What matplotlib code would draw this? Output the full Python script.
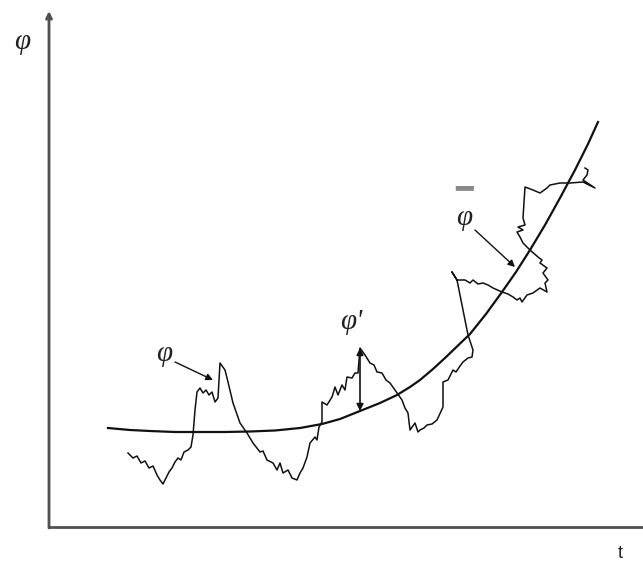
import numpy as np
import matplotlib.pyplot as plt

# mean curve (phi-bar) : t, phi
mean_t = [59, 81, 101, 126, 151, 176, 201, 226, 251, 273, 291, 311, 331, 348,
          361, 371, 384, 396, 409, 421, 437, 453, 467, 481, 496, 511, 526, 539, 549]
mean_phi = [99, 97, 96, 95, 95, 95, 95.5, 96.5, 99, 103, 108, 116, 124, 132,
            140, 147, 158, 169, 181.5, 193, 213, 235, 255, 277, 302, 329, 357, 383, 405]

# instantaneous value (phi) : t, phi
inst_t = [79, 84, 88, 92, 96, 100, 104, 108, 111, 114, 117, 120, 123, 126, 129, 132,
          135, 139, 142, 144, 146, 148, 151, 154, 157, 160, 163, 166, 169, 171, 176,
          179, 184, 191, 198, 204, 211, 214, 218, 224, 228, 231, 234, 239, 243, 248,
          251, 254, 258, 261, 266, 268, 270, 273, 273, 278, 283, 286, 289, 293, 296,
          298, 303, 306, 309, 311, 316, 321, 325, 328, 333, 337, 341, 348, 353, 356,
          359, 361, 366, 369, 371, 375, 378, 383, 388, 394, 394, 399, 401, 404, 407,
          411, 414, 419, 423, 424, 423, 419, 408, 403, 408, 416, 421, 424, 429, 434,
          439, 444, 453, 459, 464, 468, 471, 473, 478, 484, 491, 498, 496, 499, 494,
          498, 491, 493, 489, 481, 474, 471, 468, 474, 469, 476, 474, 476, 484, 491,
          498, 501, 511, 521, 534, 546, 534, 538, 539, 536]
inst_phi = [74, 69, 71, 64, 66, 59, 61, 52, 47, 43, 49, 55, 59, 65, 69, 67,
            75, 77, 80, 92, 117, 135, 139, 134, 137, 132, 135, 125, 129, 164, 157,
            145, 124, 104, 94, 84, 75, 76, 67, 64, 57, 64, 54, 57, 49, 47,
            54, 59, 70, 84, 90, 87, 100, 105, 125, 122, 130, 140, 132, 142, 137,
            150, 149, 154, 154, 179, 172, 164, 162, 155, 154, 147, 144, 134, 127, 119,
            114, 97, 104, 95, 97, 99, 102, 103, 107, 120, 145, 147, 151, 157, 155,
            161, 165, 169, 170, 177, 180, 192, 247, 255, 247, 247, 244, 247, 243, 244,
            242, 239, 235, 233, 230, 227, 229, 225, 232, 234, 239, 235, 244, 247, 254,
            259, 264, 267, 270, 277, 284, 290, 295, 297, 300, 302, 309, 340, 337, 334,
            339, 342, 344, 344, 345, 339, 347, 352, 357, 359]

# fluctuation phi' at t = 311
fluct_t = 311
fluct_from, fluct_to = 116, 179

fig = plt.figure(figsize=(6.43, 5.63), dpi=100)
ax = fig.add_axes([0, 0, 1, 1])
ax.set_xlim(-49, 594)
ax.set_ylim(-36, 527)
ax.axis('off')

axis_col = '#505050'
# axes
ax.plot([0, 594], [0, 0], color=axis_col, lw=2, solid_capstyle='butt')
ax.annotate('', xy=(0, 516), xytext=(0, -1),
            arrowprops=dict(arrowstyle='-|>', color=axis_col, lw=2, mutation_scale=9,
                            shrinkA=0, shrinkB=0))

ax.plot(mean_t, mean_phi, color='#111111', lw=1.6)
ax.plot(inst_t, inst_phi, color='#111111', lw=1.1)

serif = dict(family='Liberation Serif', style='italic', color='#222222')
ax.text(-27, 485, '\u03c6', fontsize=21, ha='center', va='center', **serif)
ax.text(571, -26, 't', fontsize=13, ha='center', va='center', family='Liberation Sans',
        color='#222222')

arr = dict(arrowstyle='-|>', color='#111111', lw=1, mutation_scale=10, shrinkA=0, shrinkB=0)
ax.text(115, 173, '\u03c6', fontsize=21, ha='center', va='center', **serif)
ax.annotate('', xy=(164, 147), xytext=(126, 165), arrowprops=arr)

ax.text(302, 205, "\u03c6'", fontsize=21, ha='center', va='center', **serif)
ax.annotate('', xy=(fluct_t, fluct_to), xytext=(fluct_t, fluct_from),
            arrowprops=dict(arrowstyle='<|-|>', color='#111111', lw=1.2,
                            mutation_scale=10, shrinkA=0, shrinkB=0))

ax.text(415, 309, '\u03c6', fontsize=21, ha='center', va='center', **serif)
ax.text(415, 338, '\u2501', fontsize=21, ha='center', va='center',
        family='DejaVu Sans', color='#8a8a8a')
ax.annotate('', xy=(466, 260), xytext=(426, 297), arrowprops=arr)

fig.savefig('out.png', dpi=100)
